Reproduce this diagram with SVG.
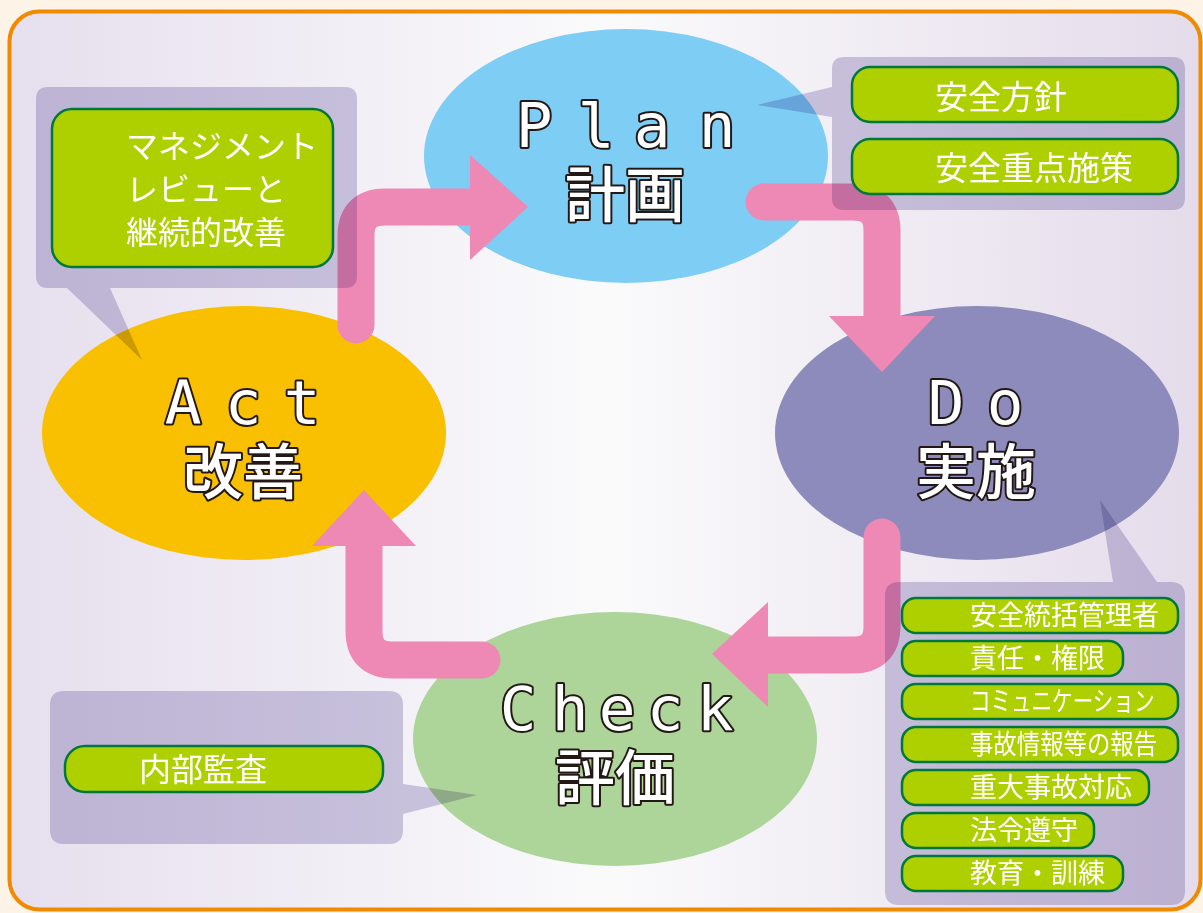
<svg xmlns="http://www.w3.org/2000/svg" width="1203" height="913" viewBox="0 0 1203 913">
<defs>
<linearGradient id="bg" x1="0" y1="0" x2="1" y2="0">
<stop offset="0" stop-color="#E6DFEE"/>
<stop offset="0.5" stop-color="#FAFAFB"/>
<stop offset="1" stop-color="#E5DCEB"/>
</linearGradient>
</defs>
<style>
.call{fill:#D1CCE3;mix-blend-mode:multiply}
.gb{fill:#AFD000;stroke:#00783C;stroke-width:2.5}
.gt{fill:#FFFFFF;font-family:"Noto Sans CJK JP","Noto Sans",sans-serif}
.lab{fill:#FFFFFF;stroke:#231815;stroke-width:4;paint-order:stroke;stroke-linejoin:round;text-anchor:middle}
.lat{font-family:"DejaVu Sans Mono",monospace;font-size:61px}
.kan{font-family:"Noto Sans CJK JP",sans-serif;font-size:60px;font-weight:500}
.shaft{fill:none;stroke:#EE88B4;stroke-width:37;stroke-linecap:round}
.head{fill:#EE88B4}
</style>
<rect x="0" y="0" width="1203" height="913" fill="#FDF3E7"/>
<rect x="9.5" y="11.5" width="1191" height="898" rx="30" fill="url(#bg)" stroke="#F08A00" stroke-width="4"/>

<g id="plan">
<ellipse cx="626" cy="156" rx="202" ry="127" fill="#7DCDF4"/>
</g>
<g id="do">
<ellipse cx="977" cy="433" rx="202" ry="127" fill="#8C8BBC"/>
</g>
<g id="check">
<ellipse cx="615" cy="739" rx="202" ry="127" fill="#ADD499"/>
</g>
<g id="act">
<ellipse cx="244" cy="433" rx="202" ry="127" fill="#F8C000"/>
</g>

<g id="connectors">
<path class="shaft" d="M356,325 V236 Q356,207 385,207 H472"/>
<polygon class="head" points="470,155 528,207 470,260"/>
<path class="shaft" d="M764,202 H853 Q882,202 882,231 V318"/>
<polygon class="head" points="829,316 935,316 882,372"/>
<path class="shaft" d="M882,537 V626 Q882,655 853,655 H766"/>
<polygon class="head" points="768,602 712,654 768,707"/>
<path class="shaft" d="M482,660 H393 Q364,660 364,631 V544"/>
<polygon class="head" points="312,546 416,546 364,490"/>
</g>

<g id="act-callout">
<path class="call" d="M48,87 H345 Q357,87 357,99 V276 Q357,288 345,288 H110 L142,360 L67,288 H48 Q36,288 36,276 V99 Q36,87 48,87 Z"/>
<rect class="gb" x="52" y="109" width="281" height="158" rx="20"/>
<text class="gt" font-size="32"><tspan x="126" y="158">マネジメント</tspan><tspan x="126" y="201">レビューと</tspan><tspan x="126" y="244">継続的改善</tspan></text>
</g>

<g id="plan-callout">
<path class="call" d="M844,57 H1173 Q1185,57 1185,69 V198 Q1185,210 1173,210 H844 Q832,210 832,198 V117 L757,105 L832,87 V69 Q832,57 844,57 Z"/>
<rect class="gb" x="852" y="67" width="326" height="55" rx="18"/>
<rect class="gb" x="852" y="139" width="326" height="55" rx="18"/>
<text class="gt" font-size="33" x="935" y="109">安全方針</text>
<text class="gt" font-size="33" x="935" y="180">安全重点施策</text>
</g>

<g id="do-callout">
<path class="call" d="M899,582 H1113 L1100,500 L1157,582 H1171 Q1185,582 1185,596 V891 Q1185,905 1171,905 H899 Q885,905 885,891 V596 Q885,582 899,582 Z"/>
<rect class="gb" x="902" y="598" width="276" height="35" rx="14"/>
<rect class="gb" x="902" y="641" width="221" height="35" rx="14"/>
<rect class="gb" x="902" y="684" width="276" height="35" rx="14"/>
<rect class="gb" x="902" y="727" width="276" height="35" rx="14"/>
<rect class="gb" x="902" y="770" width="247" height="35" rx="14"/>
<rect class="gb" x="902" y="813" width="192" height="35" rx="14"/>
<rect class="gb" x="902" y="856" width="221" height="35" rx="14"/>
<text class="gt" font-size="27" x="970" y="625">安全統括管理者</text>
<text class="gt" font-size="27" x="970" y="668">責任・権限</text>
<text class="gt" font-size="27" x="1274.6" y="711" transform="scale(0.761,1)">コミュニケーション</text>
<text class="gt" font-size="27" x="1120.1" y="754" transform="scale(0.866,1)">事故情報等の報告</text>
<text class="gt" font-size="27" x="970" y="797">重大事故対応</text>
<text class="gt" font-size="27" x="970" y="840">法令遵守</text>
<text class="gt" font-size="27" x="970" y="883">教育・訓練</text>
</g>

<g id="check-callout">
<path class="call" d="M64,691 H389 Q403,691 403,705 V784 L477,795 L403,814 V830 Q403,844 389,844 H64 Q50,844 50,830 V705 Q50,691 64,691 Z"/>
<rect class="gb" x="65" y="746" width="318" height="46" rx="20"/>
<text class="gt" font-size="32" x="139" y="781">内部監査</text>
</g>

<g id="labels">
<text class="lab"><tspan class="lat" x="534 596 652 717" y="147">Plan</tspan><tspan class="kan" x="625" y="217">計画</tspan></text>
<text class="lab"><tspan class="lat" x="946 1005" y="424">Do</tspan><tspan class="kan" x="976" y="494">実施</tspan></text>
<text class="lab"><tspan class="lat" x="518 570 617 665 715" y="730">Check</tspan><tspan class="kan" x="615" y="800">評価</tspan></text>
<text class="lab"><tspan class="lat" x="183 243 302" y="424">Act</tspan><tspan class="kan" x="243" y="494">改善</tspan></text>
</g>
</svg>
